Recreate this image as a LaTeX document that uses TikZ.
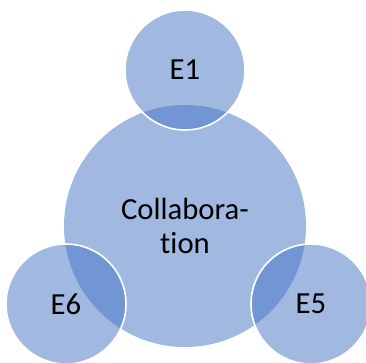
\documentclass[tikz,border=0pt]{standalone}
\usepackage{fontspec}
\setmainfont{Carlito}[Ligatures=NoCommon]
\definecolor{petal}{HTML}{4472C4}

\begin{document}
\begin{tikzpicture}[x=0.75pt,y=0.75pt,yscale=-1,xscale=1,
    hub/.style={circle, fill=petal, fill opacity=0.5, text opacity=1, minimum size=181.5pt, inner sep=0pt, align=center, font=\fontsize{23}{25.5}\selectfont},
    spoke/.style={circle, fill=petal, fill opacity=0.5, text opacity=1, draw=white, draw opacity=1, line width=1.2pt, minimum size=90pt, inner sep=0pt, font=\fontsize{23}{25.5}\selectfont}]
\useasboundingbox (0,0) rectangle (366,362);
\node [hub] (collab) at (185,226) {Collabora-\\tion};
\node [spoke] (e1) at (185,70) {E1};
\node [spoke] (e6) at (66,304) {E6};
\node [spoke] (e5) at (311,304) {E5};
\end{tikzpicture}
\end{document}
